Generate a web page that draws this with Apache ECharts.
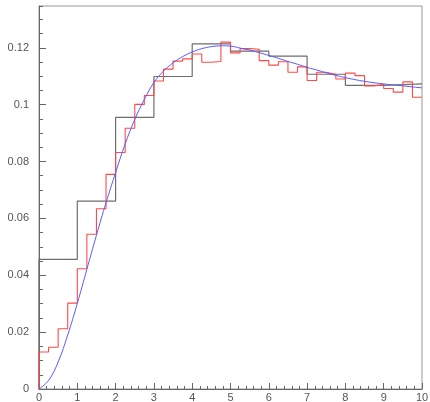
<!DOCTYPE html>
<html>
<head>
<meta charset="utf-8">
<script src="https://cdn.jsdelivr.net/npm/echarts@6/dist/echarts.min.js"></script>
<style>
  html, body { margin: 0; padding: 0; background: #fff; }
  #chart { width: 430px; height: 402px; }
</style>
</head>
<body>
<div id="chart"></div>
<script>
// coarse histogram, 10 bins of width 1
var blackBinWidth = 1
var blackValues = [0.0456, 0.0661, 0.0955, 0.1099, 0.1214, 0.1188, 0.1171, 0.1107, 0.1068, 0.1073]

// fine histogram, 40 bins of width 0.25
var redBinWidth = 0.25
var redValues = [
  0.0130, 0.0147, 0.0212, 0.0302, 0.0423, 0.0544, 0.0634, 0.0755,
  0.0832, 0.0917, 0.1001, 0.1032, 0.1083, 0.1125, 0.1153, 0.1161,
  0.1178, 0.1149, 0.1152, 0.1220, 0.1182, 0.1197, 0.1195, 0.1155,
  0.1139, 0.1151, 0.1114, 0.1133, 0.1085, 0.1114, 0.1107, 0.1090,
  0.1111, 0.1102, 0.1066, 0.1071, 0.1057, 0.1044, 0.1080, 0.1026
]

// fitted curve
var curveX = [0, 0.25, 0.5, 0.75, 1, 1.25, 1.5, 1.75, 2, 2.25, 2.5, 2.75, 3, 3.25, 3.5, 3.75,
  4, 4.25, 4.5, 4.75, 5, 5.25, 5.5, 5.75, 6, 6.25, 6.5, 6.75, 7, 7.25, 7.5, 7.75, 8, 8.5, 9, 9.5, 10]
var curveY = [0, 0.0030, 0.0095, 0.0190, 0.0301, 0.0421, 0.0541, 0.0655, 0.0761, 0.0862, 0.0948, 0.1018,
  0.1078, 0.1118, 0.1147, 0.1169, 0.1185, 0.1197, 0.1204, 0.1207, 0.1206, 0.1199, 0.1192, 0.1183,
  0.1173, 0.1163, 0.1152, 0.1142, 0.1131, 0.1122, 0.1112, 0.1103, 0.1095, 0.1082, 0.1073, 0.1066, 0.1059]

var yMax = 0.1347

function stepData(values, width) {
  var out = [[0, 0]]
  values.forEach(function (v, i) {
    out.push([i * width, v])
  })
  out.push([values.length * width, values[values.length - 1]])
  return out
}

var curveData = curveX.map(function (x, i) { return [x, curveY[i]] })

var chart = echarts.init(document.getElementById('chart'), null, { renderer: 'canvas' })

var labelStyle = { color: '#555', fontFamily: 'Liberation Sans, Arial, sans-serif', fontSize: 11 }

chart.setOption({
  animation: false,
  backgroundColor: '#fff',
  grid: {
    left: 39, right: 8, top: 6, bottom: 13,
    show: true, borderColor: '#999', borderWidth: 1,
    outerBoundsMode: 'none'
  },
  xAxis: {
    type: 'value', min: 0, max: 10, interval: 1,
    axisLine: { lineStyle: { color: '#666', width: 1 } },
    axisTick: { inside: true, length: 6, lineStyle: { color: '#666' } },
    minorTick: { show: true, splitNumber: 5, length: 3, lineStyle: { color: '#666' } },
    splitLine: { show: false },
    axisLabel: Object.assign({ margin: 3 }, labelStyle)
  },
  yAxis: [
    {
      type: 'value', min: 0, max: yMax, interval: 0.02,
      axisLine: { show: true, lineStyle: { color: '#666', width: 1 } },
      axisTick: { show: true, inside: true, length: 7, lineStyle: { color: '#666' } },
      splitLine: { show: false },
      axisLabel: Object.assign({
        margin: 10, showMaxLabel: false,
        formatter: function (v) { return String(+v.toFixed(4)) }
      }, labelStyle)
    },
    {
      type: 'value', min: 0, max: yMax, interval: 0.005, position: 'left',
      axisLine: { show: false },
      axisTick: { show: true, inside: true, length: 4, lineStyle: { color: '#666' } },
      splitLine: { show: false },
      axisLabel: { show: false }
    }
  ],
  series: [
    {
      type: 'line', step: 'end', data: stepData(blackValues, blackBinWidth),
      symbol: 'none', lineStyle: { color: '#6e6e6e', width: 1.2 }, z: 2
    },
    {
      type: 'line', step: 'end', data: stepData(redValues, redBinWidth),
      symbol: 'none', lineStyle: { color: '#ff4a4a', width: 1.1 }, z: 3
    },
    {
      type: 'line', smooth: 0.4, data: curveData,
      symbol: 'none', lineStyle: { color: '#5a5aff', width: 1 }, z: 4
    }
  ]
})
</script>
</body>
</html>
